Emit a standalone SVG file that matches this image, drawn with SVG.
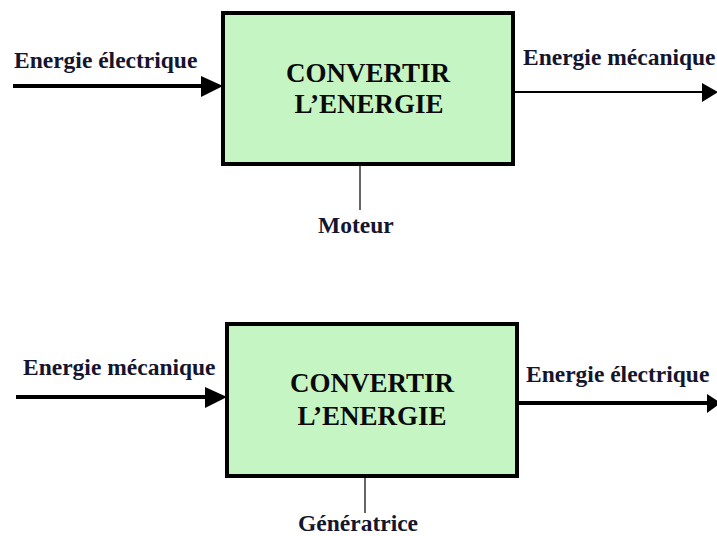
<svg xmlns="http://www.w3.org/2000/svg" width="717" height="536" viewBox="0 0 717 536">
<style>
.box{fill:#c6f5c4;stroke:#000;stroke-width:4}
.lbl{font-family:"Liberation Serif","Times New Roman",serif;font-weight:bold;font-size:23.5px;fill:#15152e}
.ttl{font-family:"Liberation Serif","Times New Roman",serif;font-weight:bold;font-size:27px;fill:#0a0a0a;text-anchor:middle}
.thick{stroke:#000;stroke-width:4;fill:none}
.thin{stroke:#000;stroke-width:2;fill:none}
.stem{stroke:#333;stroke-width:1.5;fill:none}
.head{fill:#000}
</style>
<rect width="717" height="536" fill="#fff"/>
<g id="node-moteur">
<rect class="box" x="223" y="13" width="290" height="151"/>
<text class="ttl" x="368" y="82">CONVERTIR</text>
<text class="ttl" x="369" y="113">L’ENERGIE</text>
</g>
<g id="node-generatrice">
<rect class="box" x="227" y="324" width="290" height="152"/>
<text class="ttl" x="372" y="392">CONVERTIR</text>
<text class="ttl" x="372" y="425">L’ENERGIE</text>
</g>
<g id="connectors">
<line class="thick" x1="13" y1="86" x2="205" y2="86"/>
<polygon class="head" points="201,76 223,86 201,97"/>
<line class="thin" x1="513" y1="92" x2="704" y2="92"/>
<polygon class="head" points="702,83 718,92 702,102"/>
<line class="stem" x1="360" y1="166" x2="360" y2="210"/>
<line class="thick" x1="16" y1="397" x2="208" y2="397"/>
<polygon class="head" points="205,387 227,397 205,408"/>
<line class="thick" x1="517" y1="403" x2="709" y2="403"/>
<polygon class="head" points="707,394 721,403 707,413"/>
<line class="stem" x1="365" y1="478" x2="365" y2="513"/>
</g>
<g id="labels">
<text class="lbl" x="14" y="68">Energie électrique</text>
<text class="lbl" x="523" y="65">Energie mécanique</text>
<text class="lbl" x="318" y="233">Moteur</text>
<text class="lbl" x="23" y="375">Energie mécanique</text>
<text class="lbl" x="526" y="382">Energie électrique</text>
<text class="lbl" x="298" y="531">Génératrice</text>
</g>
</svg>
